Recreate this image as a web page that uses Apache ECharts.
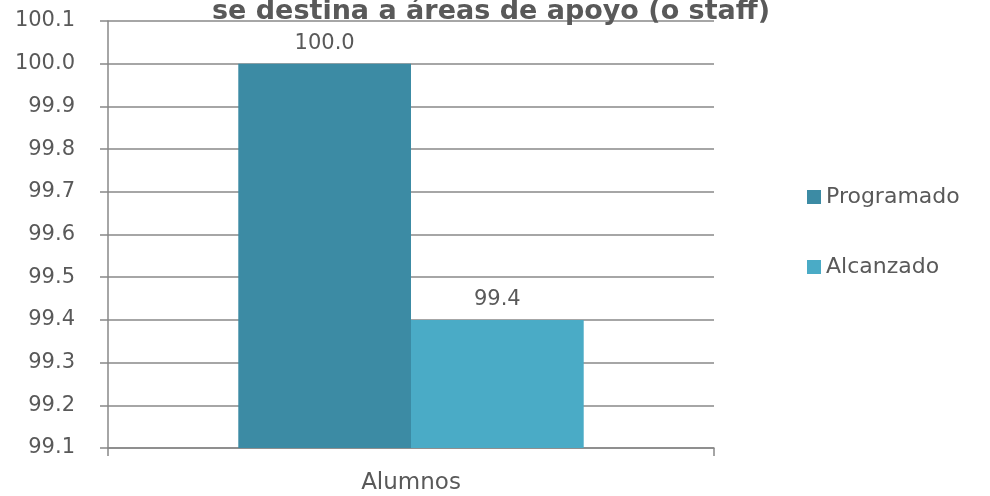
<!DOCTYPE html>
<html>
<head>
<meta charset="utf-8">
<script src="https://cdn.jsdelivr.net/npm/echarts@6/dist/echarts.min.js"></script>
<style>
  html, body { margin: 0; padding: 0; background: #fff; }
  #main { width: 990px; height: 496px; }
</style>
</head>
<body>
<div id="main"></div>
<script>
// datos
var categorias = ['Alumnos'];
var programado = [100.0];
var alcanzado = [99.4];
var nombresSeries = ['Programado', 'Alcanzado'];

var chart = echarts.init(document.getElementById('main'));
var fuente = 'DejaVu Sans';
var gris = '#595959';

var option = {
  animation: false,
  title: {
    text: 'se destina a áreas de apoyo (o staff)',
    left: 486,
    textAlign: 'center',
    top: -7,
    textStyle: {
      fontFamily: fuente,
      fontSize: 27,
      fontWeight: 'bold',
      color: gris
    }
  },
  grid: {
    left: 108,
    right: 276,
    top: 21,
    bottom: 48
  },
  legend: {
    orient: 'vertical',
    left: 802,
    top: 181,
    itemGap: 48,
    itemWidth: 14,
    itemHeight: 14,
    icon: 'rect',
    data: nombresSeries,
    textStyle: {
      fontFamily: fuente,
      fontSize: 22,
      color: gris
    }
  },
  xAxis: {
    type: 'category',
    data: categorias,
    axisLine: { lineStyle: { color: '#888', width: 1.5 } },
    axisTick: { show: true, length: 8, alignWithLabel: false, lineStyle: { color: '#888', width: 1.5 } },
    axisLabel: {
      margin: 24,
      fontFamily: fuente,
      fontSize: 23,
      color: gris
    }
  },
  yAxis: {
    type: 'value',
    min: 99.1,
    max: 100.1,
    interval: 0.1,
    axisLine: { show: true, lineStyle: { color: '#888', width: 1.5 } },
    axisTick: { show: true, length: 8, lineStyle: { color: '#888', width: 1.5 } },
    splitLine: { show: true, lineStyle: { color: '#888', width: 1.5 } },
    axisLabel: {
      margin: 33,
      fontFamily: fuente,
      fontSize: 21,
      color: gris,
      formatter: function (v) { return v.toFixed(1); }
    }
  },
  series: [
    {
      name: nombresSeries[0],
      type: 'bar',
      data: programado,
      barGap: '0%',
      barCategoryGap: '43%',
      itemStyle: { color: '#3c8ba4' },
      label: {
        show: true,
        position: 'top',
        distance: 10,
        fontFamily: fuente,
        fontSize: 21,
        color: gris,
        formatter: function (p) { return p.value.toFixed(1); }
      }
    },
    {
      name: nombresSeries[1],
      type: 'bar',
      data: alcanzado,
      itemStyle: { color: '#4aabc6' },
      label: {
        show: true,
        position: 'top',
        distance: 10,
        fontFamily: fuente,
        fontSize: 21,
        color: gris,
        formatter: function (p) { return p.value.toFixed(1); }
      }
    }
  ]
};

chart.setOption(option);
</script>
</body>
</html>
